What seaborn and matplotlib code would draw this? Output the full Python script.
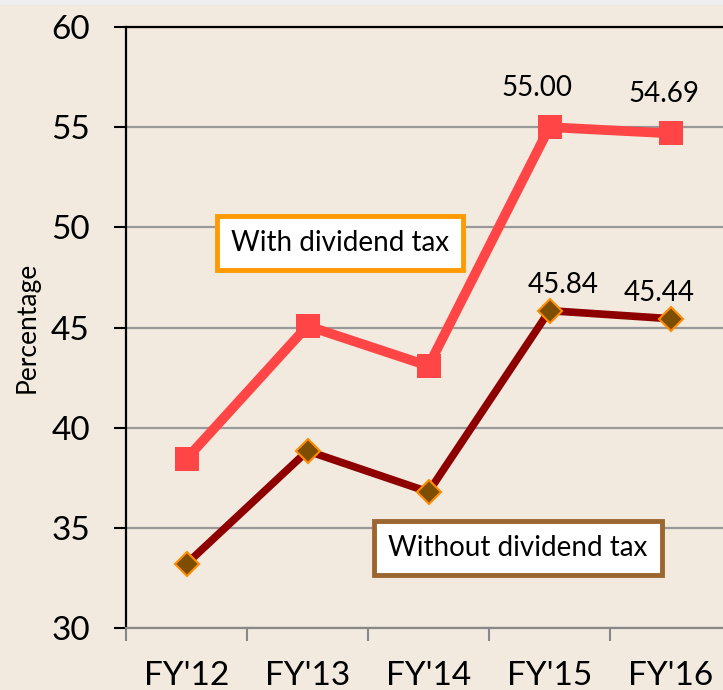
import pandas as pd
import numpy as np
import matplotlib.pyplot as plt
import seaborn as sns
from matplotlib.patches import Rectangle

years = ["FY'12", "FY'13", "FY'14", "FY'15", "FY'16"]
with_tax = [38.45, 45.08, 43.08, 55.00, 54.69]
without_tax = [33.20, 38.84, 36.79, 45.84, 45.44]
yticks = [30, 35, 40, 45, 50, 55, 60]

df = pd.DataFrame({'year': years, 'with': with_tax, 'without': without_tax})

sns.set_style('white')
plt.rcParams['font.family'] = ['Lato', 'DejaVu Sans']
plt.rcParams['text.color'] = 'black'

bg = '#F2EADF'
fig = plt.figure(figsize=(7.23, 6.90), dpi=100, facecolor=bg)
fig.patches.append(Rectangle((0, 0.993), 1, 0.007, transform=fig.transFigure,
                             facecolor='#EFEFEF', edgecolor='none'))
ax = fig.add_axes([126 / 723, 62 / 690, 605 / 723, 601 / 690])
ax.set_facecolor(bg)

sns.lineplot(data=df, x='year', y='with', ax=ax, color='#FF4545', lw=7,
             marker='s', markersize=17, markeredgewidth=0, zorder=4)
sns.lineplot(data=df, x='year', y='without', ax=ax, color='#8E0000', lw=5.5,
             marker='D', markersize=12, markerfacecolor='#7E4E00',
             markeredgecolor='#FF8C00', markeredgewidth=1.5, zorder=4)

ax.set_xlim(-0.5, 4.5)
ax.set_ylim(30, 60)
ax.set_yticks(yticks)
ax.set_yticklabels([str(v) for v in yticks], fontsize=24, color='black')
ax.set_xticks(np.arange(-0.5, 5, 1))
ax.set_xticklabels([])
ax.set_xticks(range(5), minor=True)
ax.set_xticklabels(years, minor=True, fontsize=24, color='black')
ax.tick_params(axis='x', which='major', bottom=True, length=9, width=1.5,
               color='#888888', direction='out')
ax.tick_params(axis='x', which='minor', bottom=True, length=0, pad=24)
ax.tick_params(axis='y', left=True, length=9, width=1.5, color='black',
               direction='out', pad=17)
ax.yaxis.grid(True, color='#999999', lw=1.6)
ax.set_axisbelow(True)
for s in ['left', 'top']:
    ax.spines[s].set_color('black')
    ax.spines[s].set_linewidth(1.6)
ax.spines['bottom'].set_color('#888888')
ax.spines['bottom'].set_linewidth(1.6)
ax.spines['right'].set_visible(False)

ax.set_xlabel('')
ax.set_ylabel('Percentage', fontsize=19, labelpad=8, color='black')

# value labels on the last two points
for i in [3, 4]:
    ax.annotate(f'{with_tax[i]:.2f}', (i, with_tax[i]), xytext=(-9 if i == 3 else -5, 19),
                textcoords='offset points', ha='center', va='bottom', fontsize=20,
                color='black')
    ax.annotate(f'{without_tax[i]:.2f}', (i, without_tax[i]), xytext=(10 if i == 3 else -8, 9),
                textcoords='offset points', ha='center', va='bottom', fontsize=20,
                color='black')

ax.text(1.27, 49.2, 'With dividend tax', fontsize=20, ha='center', va='center', color='black',
        bbox=dict(boxstyle='square,pad=0.5', fc='white', ec='#FF9A00', lw=3.5), zorder=6)
ax.text(2.74, 34.0, 'Without dividend tax', fontsize=20, ha='center', va='center', color='black',
        bbox=dict(boxstyle='square,pad=0.5', fc='white', ec='#9C6630', lw=3.5), zorder=6)

fig.savefig('out.png', dpi=100, facecolor=bg)
